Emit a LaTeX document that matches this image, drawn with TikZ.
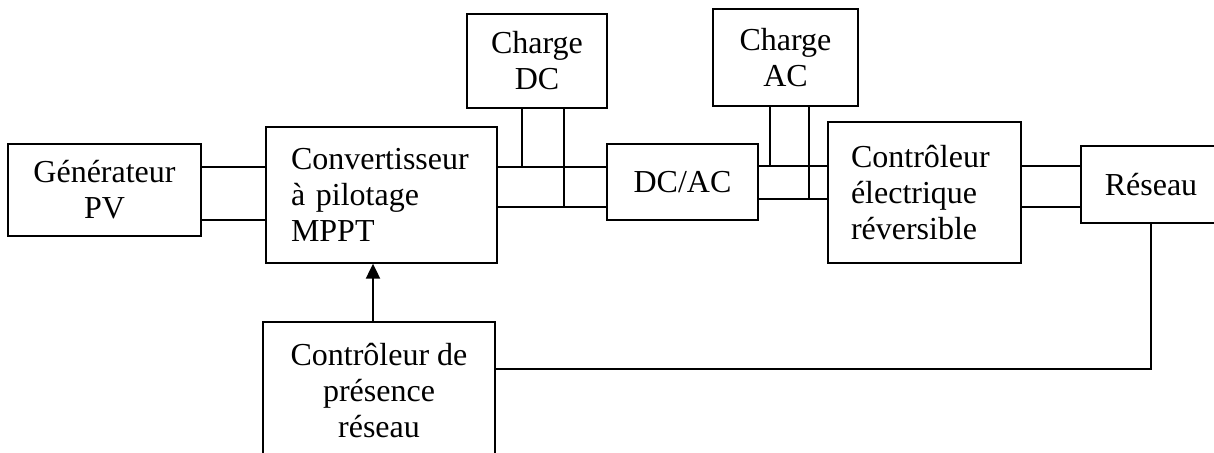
\documentclass[tikz,border=0pt]{standalone}
\usepackage{fontspec}
\setmainfont{Liberation Serif}
\usetikzlibrary{arrows.meta,positioning}
\tikzset{
  blockbox/.style={draw, line width=0.65pt, align=center, inner sep=2pt,
    font=\fontsize{16}{18}\selectfont},
  wire/.style={line width=0.65pt},
  ctrlarrow/.style={line width=1pt, -{Triangle[length=7.5pt,width=7pt]}}
}

\begin{document}
\begin{tikzpicture}[x=0.5pt, y=-0.5pt]
        \clip (0,0) rectangle (1214,452);
        % blocs
        \node[blockbox, minimum width=96.5pt, minimum height=46pt] (pv) at (104.5,190) {Générateur\\PV};
        \node[blockbox, align=left, text width=90.5pt, minimum width=115.5pt, minimum height=68pt] (conv) at (381.5,195) {Convertisseur\\à pilotage\\MPPT};
        \node[blockbox, minimum width=70pt, minimum height=47pt] (chdc) at (537,61) {Charge\\DC};
        \node[blockbox, minimum width=75.5pt, minimum height=38pt] (dcac) at (682.5,182) {DC/AC};
        \node[blockbox, minimum width=72.5pt, minimum height=48.5pt] (chac) at (785.5,57.5) {Charge\\AC};
        \node[blockbox, align=left, text width=73.5pt, minimum width=96.5pt, minimum height=70.5pt] (ctrl) at (924.5,192.5) {Contrôleur\\électrique\\réversible};
        \node[blockbox, minimum width=70pt, minimum height=38.5pt] (res) at (1151,184.5) {Réseau};
        \node[blockbox, minimum width=116pt, minimum height=69pt] (pres) at (379,391) {Contrôleur de\\présence\\réseau};
        % liaisons de puissance
        \draw[wire] (pv.east |- 0,167) -- (conv.west |- 0,167);
        \draw[wire] (pv.east |- 0,220) -- (conv.west |- 0,220);
        \draw[wire] (conv.east |- 0,167) -- (dcac.west |- 0,167);
        \draw[wire] (conv.east |- 0,207) -- (dcac.west |- 0,207);
        \draw[wire] (chdc.south -| 522,0) -- (522,167);
        \draw[wire] (chdc.south -| 564,0) -- (564,207);
        \draw[wire] (dcac.east |- 0,166) -- (ctrl.west |- 0,166);
        \draw[wire] (dcac.east |- 0,199) -- (ctrl.west |- 0,199);
        \draw[wire] (chac.south -| 770,0) -- (770,166);
        \draw[wire] (chac.south -| 809,0) -- (809,199);
        \draw[wire] (ctrl.east |- 0,166) -- (res.west |- 0,166);
        \draw[wire] (ctrl.east |- 0,207) -- (res.west |- 0,207);
        % commande
        \draw[ctrlarrow] (pres.north -| 373,0) -- (conv.south -| 373,0);
        \draw[wire] (pres.east |- 0,369) -| (res.south);
\end{tikzpicture}
\end{document}
